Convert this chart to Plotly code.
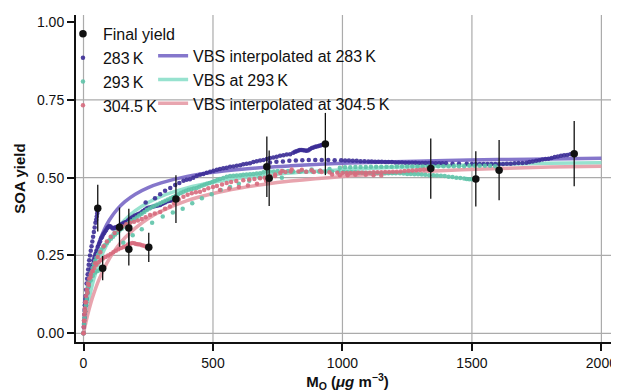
import plotly.graph_objects as go

# ---------------- data ----------------
# Final yield points (black, with error bars)
final_x = [55, 74, 139, 175, 175, 252, 357, 708, 717, 934, 1341, 1515, 1605, 1895]
final_y = [0.402, 0.209, 0.341, 0.338, 0.270, 0.276, 0.431, 0.535, 0.498, 0.608, 0.529, 0.496, 0.524, 0.577]
final_err = [0.075, 0.039, 0.063, 0.062, 0.052, 0.047, 0.077, 0.097, 0.089, 0.100, 0.097, 0.089, 0.097, 0.105]

# 283 K experiments (x = Mo, y = SOA yield)
k283_a = [(0,0),(1,0.02),(2,0.04),(3,0.06),(4,0.075),(5,0.09),(6,0.1),(7,0.11),(8,0.12),(10,0.14),(12,0.16),(14,0.175),
          (16,0.19),(18,0.205),(20,0.22),(22,0.235),(25,0.25),(28,0.265),(31,0.28),(34,0.295),(37,0.31),(40,0.325),
          (43,0.34),(46,0.355),(49,0.365),(51,0.375),(53,0.385),(54,0.393),(55,0.40)]
k283_b = [(2,0.03),(4,0.05),(6,0.07),(9,0.09),(12,0.11),(15,0.13),(18,0.15),(21,0.165),(24,0.18),(27,0.195),(30,0.21),
          (34,0.22),(38,0.235),(42,0.245),(46,0.255),(50,0.265),(55,0.278),(60,0.287),(64,0.295),(68,0.305),(72,0.31),
          (76,0.317),(80,0.322),(84,0.328),(88,0.333),(92,0.338),(96,0.342),(100,0.345),(104,0.343),(108,0.34),
          (113,0.337),(118,0.338),(122,0.34),(127,0.341),(132,0.342),(137,0.345),(142,0.348),(147,0.35),(152,0.353),
          (157,0.355),(162,0.357),(167,0.358),(172,0.362),(177,0.366),(182,0.369),(187,0.372),(193,0.375),(199,0.378),
          (205,0.38),(211,0.383),(218,0.385),(224,0.389),(230,0.393),(237,0.397),(244,0.401),(250,0.403),(257,0.404),
          (263,0.406),(270,0.407),(277,0.409),(283,0.41),(290,0.411),(296,0.412),(302,0.415),(308,0.418),(315,0.42),
          (321,0.423),(328,0.425),(334,0.426),(341,0.427),(347,0.428),(352,0.43),(357,0.431)]
k283_c = [(240,0.42),(276,0.434),(296,0.447),(315,0.458),(335,0.467),(354,0.476),(370,0.483),(386,0.49),(398,0.493),
          (411,0.495),(424,0.5),(437,0.505),(450,0.509),(463,0.512),(476,0.516),(489,0.519),(502,0.522),(515,0.525),
          (527,0.528),(540,0.53),(553,0.532),(566,0.535),(579,0.536),(592,0.538),(605,0.54),(617,0.543),(630,0.545),
          (643,0.546),(656,0.55),(669,0.553),(682,0.555),(695,0.557),(708,0.56),(720,0.563),(733,0.565),(746,0.567),
          (759,0.57),(772,0.572),(785,0.574),(798,0.575),(810,0.58),(817,0.583),(823,0.585),(830,0.587),(836,0.589),
          (843,0.589),(849,0.588),(856,0.587),(862,0.586),(869,0.588),(875,0.592),(882,0.595),(888,0.597),(895,0.599),
          (901,0.6),(908,0.602),(914,0.603),(920,0.605),(925,0.606),(930,0.607),(934,0.608)]
k283_d = [(720,0.549),(745,0.551),(770,0.552),(795,0.554),(820,0.555),(845,0.556),(870,0.557),(895,0.557),(920,0.557),
          (945,0.557),(970,0.556),(995,0.556),(1010,0.555),(1025,0.555),(1040,0.554),(1055,0.554),(1070,0.553),
          (1085,0.553),(1100,0.552),(1113,0.552),(1126,0.551),(1139,0.551),(1152,0.551),(1165,0.55),(1178,0.55),
          (1191,0.55),(1204,0.549),(1217,0.549),(1230,0.549),(1243,0.548),(1256,0.548),(1269,0.548),(1282,0.548),
          (1295,0.547),(1308,0.547),(1321,0.547),(1334,0.547),(1347,0.546),(1360,0.546),(1373,0.546),(1386,0.546),
          (1400,0.546),(1425,0.545),(1450,0.545),(1480,0.545),(1500,0.544),(1515,0.544),(1530,0.544),(1545,0.544),
          (1560,0.544),(1575,0.544),(1590,0.544),(1605,0.544),(1620,0.544),(1635,0.545),(1650,0.545),(1665,0.546),
          (1680,0.547),(1695,0.547),(1710,0.548),(1722,0.55),(1735,0.552),(1748,0.554),(1760,0.556),(1772,0.558),
          (1784,0.56),(1796,0.561),(1808,0.563),(1820,0.566),(1832,0.568),(1844,0.57),(1856,0.572),(1868,0.573),
          (1880,0.575),(1890,0.576),(1895,0.577)]

# 293 K experiments
k293_a = [(0,0),(3,0.04),(6,0.07),(10,0.1),(15,0.13),(20,0.15),(28,0.17),(36,0.185),(45,0.195),(55,0.2),(65,0.205),(74,0.209)]
k293_b = [(0,0),(2,0.03),(4,0.05),(6,0.07),(9,0.09),(12,0.11),(15,0.13),(18,0.15),(22,0.165),(26,0.18),(30,0.195),
          (35,0.21),(40,0.222),(45,0.233),(50,0.243),(56,0.252),(62,0.26),(68,0.268),(75,0.276),(82,0.283),(90,0.29),
          (98,0.297),(106,0.304),(114,0.31),(122,0.317),(130,0.323),(139,0.33),(148,0.336),(157,0.342),(166,0.348),
          (175,0.354),(185,0.36),(195,0.366),(205,0.372),(215,0.378),(225,0.384),(235,0.39),(245,0.396),(255,0.401),
          (265,0.406),(275,0.41),(285,0.414),(296,0.418),(306,0.422),(316,0.426),(326,0.43),(336,0.434),(346,0.438),
          (356,0.442),(366,0.447),(376,0.451),(386,0.455),(396,0.458),(406,0.461),(416,0.463),(426,0.465),(437,0.467),
          (447,0.471),(457,0.474),(467,0.477),(477,0.48),(487,0.483),(497,0.486),(507,0.489),(517,0.493),(527,0.496),
          (540,0.499),(553,0.503),(566,0.505),(579,0.506),(592,0.507),(605,0.508),(617,0.509),(630,0.51),(643,0.511),
          (656,0.512),(669,0.513),(682,0.514),(695,0.517),(708,0.519),(720,0.52),(735,0.52),(750,0.521),(770,0.521),
          (790,0.521),(810,0.52),(836,0.519),(860,0.519),(885,0.519),(910,0.519),(935,0.519),(960,0.519),(985,0.518),
          (1005,0.518),(1020,0.517),(1035,0.517),(1050,0.517),(1065,0.516),(1080,0.516),(1094,0.515),(1108,0.515),
          (1122,0.515),(1136,0.515),(1150,0.514),(1164,0.514),(1178,0.514),(1192,0.514),(1206,0.514),(1222,0.514),
          (1236,0.513),(1250,0.512),(1264,0.512),(1278,0.511),(1292,0.511),(1306,0.51),(1320,0.509),(1335,0.508),
          (1351,0.508),(1365,0.507),(1380,0.506),(1395,0.505),(1410,0.503),(1425,0.502),(1440,0.5),(1455,0.499),
          (1470,0.497),(1480,0.496),(1490,0.495),(1500,0.495),(1515,0.496)]
k293_c = [(154,0.291),(190,0.315),(225,0.334),(265,0.355),(306,0.375),(345,0.388),(383,0.4),(420,0.418),(457,0.434),
          (495,0.447),(530,0.46),(566,0.47),(600,0.48),(640,0.49),(680,0.5),(720,0.505),(766,0.5),(804,0.519),
          (843,0.522),(881,0.526),(914,0.522),(950,0.528),(990,0.532),(1010,0.533),(1030,0.533),(1050,0.534),
          (1070,0.534),(1090,0.534),(1110,0.535),(1130,0.535),(1150,0.535),(1170,0.535),(1190,0.535),(1210,0.536),
          (1230,0.536),(1250,0.536),(1270,0.536),(1290,0.536),(1310,0.536),(1330,0.536),(1350,0.536),(1370,0.537),
          (1390,0.537),(1410,0.537),(1430,0.537),(1450,0.537),(1470,0.537),(1490,0.538),(1510,0.538),(1530,0.538),
          (1550,0.538),(1570,0.538),(1590,0.537)]

# 304.5 K experiments
k304_a = [(0,0),(1,0.02),(2,0.04),(3,0.06),(5,0.08),(7,0.1),(10,0.12),(13,0.14),(17,0.16),(22,0.175),(28,0.19),
          (35,0.2),(42,0.21),(50,0.22),(58,0.228),(66,0.235),(75,0.24),(85,0.245),(95,0.25),(105,0.255),(115,0.26),
          (125,0.265),(135,0.27),(145,0.274),(155,0.277),(164,0.28),(172,0.285),(180,0.288),(188,0.29),(196,0.289),
          (203,0.287),(210,0.286),(218,0.285),(226,0.283),(234,0.281),(242,0.278),(252,0.276)]
k304_b = [(0,0),(3,0.04),(6,0.07),(10,0.1),(15,0.13),(20,0.155),(27,0.18),(35,0.2),(45,0.225),(55,0.245),(65,0.26),
          (78,0.28),(90,0.295),(105,0.31),(120,0.322),(135,0.333),(150,0.343),(165,0.35),(180,0.355),(195,0.358),
          (210,0.362),(225,0.367),(240,0.373),(257,0.38),(275,0.385),(296,0.39),(315,0.4),(334,0.407),(350,0.418),
          (368,0.43),(386,0.439),(402,0.445),(418,0.45),(434,0.453),(450,0.455),(466,0.46),(482,0.466),(500,0.47),
          (515,0.473),(535,0.478),(553,0.483),(570,0.486),(590,0.489),(617,0.492),(640,0.494),(660,0.496),(682,0.498),
          (700,0.5),(720,0.505),(740,0.51),(760,0.515),(780,0.518),(800,0.52),(830,0.52),(860,0.519),(890,0.518),
          (920,0.518),(950,0.517),(980,0.516),(1000,0.515),(1015,0.515),(1030,0.515),(1045,0.515),(1060,0.516),
          (1075,0.516),(1090,0.516),(1105,0.516),(1120,0.517),(1135,0.517),(1150,0.517),(1165,0.518),(1180,0.518),
          (1195,0.519),(1210,0.519),(1225,0.52),(1240,0.521),(1255,0.522),(1270,0.523),(1285,0.524),(1300,0.525),
          (1315,0.526),(1330,0.527),(1341,0.529)]
k304_c = [(527,0.46),(563,0.465),(600,0.47),(635,0.475),(670,0.48),(705,0.49),(740,0.505),(766,0.521),(804,0.526),
          (843,0.525),(881,0.524),(914,0.522),(960,0.51),(990,0.508),(1020,0.508),(1050,0.509),(1090,0.509),
          (1120,0.508),(1150,0.507)]

# VBS curves
vbs_x = [0, 5, 10, 20, 30, 40, 60, 80, 100, 130, 160, 200, 250, 300, 400, 500, 600, 700, 800,
         1000, 1200, 1400, 1600, 1800, 2000]
vbs_283 = [0, 0.045, 0.084, 0.147, 0.195, 0.234, 0.292, 0.333, 0.364, 0.398, 0.423, 0.447, 0.468, 0.483,
           0.504, 0.517, 0.526, 0.533, 0.538, 0.546, 0.551, 0.555, 0.558, 0.560, 0.562]
vbs_293 = [0, 0.030, 0.057, 0.103, 0.142, 0.174, 0.227, 0.268, 0.300, 0.337, 0.365, 0.394, 0.420, 0.440,
           0.467, 0.485, 0.498, 0.507, 0.515, 0.525, 0.533, 0.538, 0.543, 0.546, 0.548]
vbs_304 = [0, 0.020, 0.038, 0.072, 0.102, 0.128, 0.173, 0.209, 0.240, 0.277, 0.307, 0.338, 0.369, 0.392,
           0.426, 0.449, 0.466, 0.479, 0.489, 0.504, 0.515, 0.523, 0.529, 0.534, 0.537]

x_ticks = [0, 500, 1000, 1500, 2000]
y_ticks = [0, 0.25, 0.5, 0.75, 1.0]
y_grid = [0, 0.25, 0.5, 0.75]

# ---------------- styling ----------------
C283, C293, C304 = "#3b2c96", "#5ec3a9", "#d76a7d"
L283, L293, L304 = "#7868c6", "#8cdfca", "#e69ba6"
FONT = "Liberation Sans, Arial, sans-serif"


def unzip(pairs_list):
    xs, ys = [], []
    for pairs in pairs_list:
        for a, b in pairs:
            xs.append(a)
            ys.append(b)
    return xs, ys


fig = go.Figure()

# VBS lines
for name, ys, col, rank in [("VBS interpolated at 283\u2009K", vbs_283, L283, 1),
                            ("VBS at 293\u2009K", vbs_293, L293, 2),
                            ("VBS interpolated at 304.5\u2009K", vbs_304, L304, 3)]:
    fig.add_trace(go.Scatter(x=vbs_x, y=ys, mode="lines", name=name, legend="legend2",
                             legendrank=rank, line=dict(color=col, width=3.5, shape="spline"),
                             opacity=0.9))

# Chamber data dots
for name, groups, col, rank in [("283\u2009K", [k283_a, k283_b, k283_c, k283_d], C283, 2),
                                ("293\u2009K", [k293_a, k293_b, k293_c], C293, 3),
                                ("304.5\u2009K", [k304_a, k304_b, k304_c], C304, 4)]:
    xs, ys = unzip(groups)
    fig.add_trace(go.Scatter(x=xs, y=ys, mode="markers", name=name, legend="legend",
                             legendrank=rank,
                             marker=dict(color=col, size=4.5, opacity=0.9, line=dict(width=0))))

# Final yield
fig.add_trace(go.Scatter(x=final_x, y=final_y, mode="markers", name="Final yield", legend="legend",
                         legendrank=1,
                         marker=dict(color="#111111", size=7.5),
                         error_y=dict(type="data", array=final_err, visible=True, color="#111111",
                                      thickness=1.3, width=0)))

shapes = []
for xv in x_ticks:
    shapes.append(dict(type="line", xref="x", yref="paper", x0=xv, x1=xv, y0=0, y1=1,
                       line=dict(color="#ababab", width=1.2), layer="below"))
for yv in y_grid:
    shapes.append(dict(type="line", xref="paper", yref="y", x0=0, x1=1, y0=yv, y1=yv,
                       line=dict(color="#ababab", width=1.2), layer="below"))

# The page body has an 8px default margin, so the figure is sized to fill the rest of the window.
fig.update_layout(
    width=611, height=384,
    margin=dict(l=68, r=0, t=7, b=50),
    paper_bgcolor="white", plot_bgcolor="white",
    font=dict(family=FONT, size=14, color="#111111"),
    shapes=shapes,
    legend=dict(x=-0.024, y=0.994, xanchor="left", yanchor="top", bgcolor="rgba(0,0,0,0)",
                font=dict(size=16, family=FONT), itemwidth=30, tracegroupgap=0),
    legend2=dict(x=0.142, y=0.927, xanchor="left", yanchor="top", bgcolor="rgba(0,0,0,0)",
                 font=dict(size=16, family=FONT), itemwidth=30, tracegroupgap=0),
    xaxis=dict(range=[-29, 2068], tickvals=x_ticks, showgrid=False, zeroline=False,
               showline=True, linecolor="#111111", linewidth=2,
               ticks="outside", ticklen=7, tickwidth=2, tickcolor="#111111",
               tickfont=dict(size=14),
               title=dict(text="<b>M<sub>O</sub> (<i>\u03bcg</i> m<sup>\u22123</sup>)</b>",
                          font=dict(size=15), standoff=6)),
    yaxis=dict(range=[-0.028, 1.0225], tickvals=y_ticks, tickformat=".2f", showgrid=False,
               zeroline=False, showline=True, linecolor="#111111", linewidth=2,
               ticks="outside", ticklen=7, tickwidth=2, tickcolor="#111111",
               tickfont=dict(size=14),
               title=dict(text="<b>SOA yield</b>", font=dict(size=15), standoff=8)),
)

fig.write_html("out.html")
